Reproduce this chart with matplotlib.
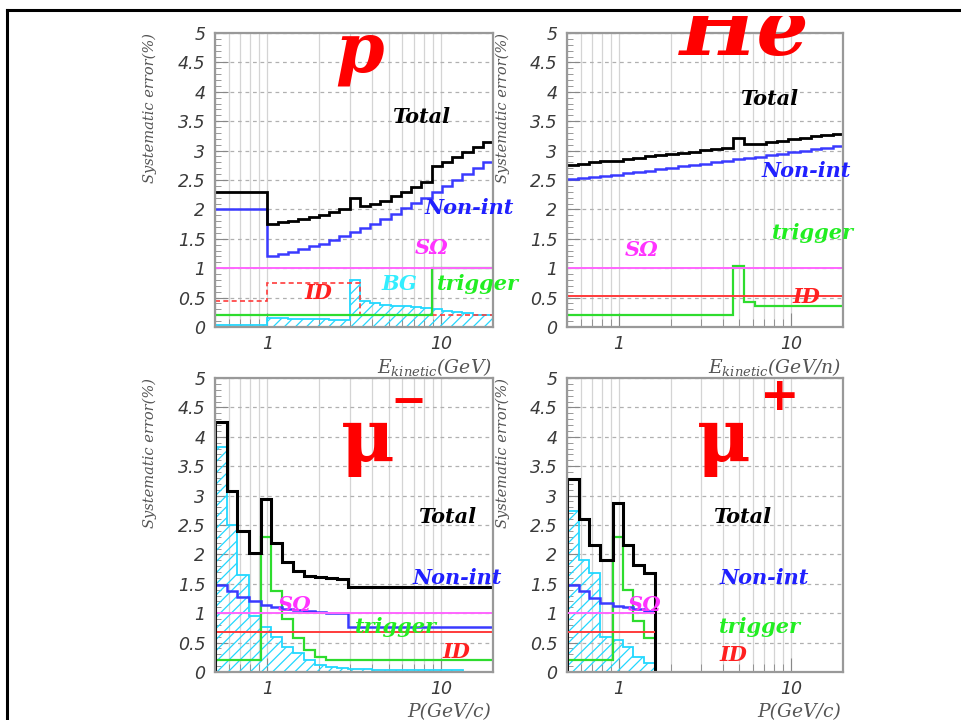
import matplotlib
matplotlib.use("Agg")
import matplotlib.pyplot as plt
from matplotlib.ticker import FixedLocator, MultipleLocator, NullFormatter, FuncFormatter
from matplotlib.lines import Line2D
from matplotlib.patches import Rectangle

W, H = 961, 720

# ---- proton panel (E_kinetic, GeV) ----
p_edges = [0.5, 1.0, 1.15, 1.31, 1.51, 1.73, 1.98, 2.27, 2.60, 2.98, 3.42, 3.92, 4.49,
           5.14, 5.89, 6.75, 7.74, 8.87, 10.2, 11.6, 13.3, 15.3, 17.5, 20.0]
p_total = [2.29, 1.76, 1.78, 1.81, 1.83, 1.87, 1.91, 1.95, 2.00, 2.20, 2.06, 2.09, 2.15,
           2.22, 2.30, 2.38, 2.46, 2.74, 2.81, 2.89, 2.98, 3.06, 3.15]
p_nonint = [2.00, 1.21, 1.24, 1.28, 1.32, 1.37, 1.42, 1.48, 1.55, 1.61, 1.68, 1.76, 1.84,
            1.93, 2.02, 2.11, 2.20, 2.30, 2.40, 2.50, 2.60, 2.70, 2.80]
p_trigger = [0.2, 0.2, 0.2, 0.2, 0.2, 0.2, 0.2, 0.2, 0.2, 0.2, 0.2, 0.2, 0.2,
             0.2, 0.2, 0.2, 0.2, 1.0, 1.0, 1.0, 1.0, 1.0, 1.0]
p_id = [0.45, 0.75, 0.75, 0.75, 0.75, 0.75, 0.75, 0.75, 0.75, 0.75, 0.2, 0.2, 0.2,
        0.2, 0.2, 0.2, 0.2, 0.2, 0.2, 0.2, 0.2, 0.2, 0.2]
p_bg = [0.03, 0.15, 0.15, 0.14, 0.14, 0.13, 0.13, 0.12, 0.12, 0.80, 0.45, 0.40, 0.37,
        0.36, 0.35, 0.34, 0.33, 0.30, 0.28, 0.25, 0.23, 0.21, 0.20]
p_somega = 1.0

# ---- helium panel (E_kinetic, GeV/n) ----
he_edges = [0.5, 0.58, 0.67, 0.78, 0.9, 1.05, 1.21, 1.41, 1.63, 1.89, 2.19, 2.54, 2.95,
            3.42, 3.96, 4.6, 5.33, 6.18, 7.17, 8.32, 9.65, 11.2, 13.0, 15.0, 17.4, 20.0]
he_total = [2.76, 2.78, 2.80, 2.82, 2.83, 2.86, 2.88, 2.90, 2.92, 2.94, 2.96, 2.98, 3.01,
            3.03, 3.05, 3.22, 3.11, 3.12, 3.15, 3.17, 3.20, 3.22, 3.24, 3.26, 3.29]
he_nonint = [2.51, 2.53, 2.55, 2.57, 2.59, 2.62, 2.64, 2.66, 2.68, 2.71, 2.73, 2.75, 2.78,
             2.80, 2.82, 2.85, 2.87, 2.89, 2.92, 2.94, 2.97, 2.99, 3.02, 3.04, 3.07]
he_trigger = [0.2, 0.2, 0.2, 0.2, 0.2, 0.2, 0.2, 0.2, 0.2, 0.2, 0.2, 0.2, 0.2,
              0.2, 0.2, 1.03, 0.43, 0.35, 0.35, 0.35, 0.35, 0.35, 0.35, 0.35, 0.35]
he_id = 0.53
he_somega = 1.0

# ---- mu- panel (P, GeV/c) ----
mum_edges = [0.5, 0.584, 0.67, 0.78, 0.92, 1.05, 1.21, 1.40, 1.62, 1.88, 2.18, 2.53,
             2.93, 4.0, 6.0, 9.0, 13.4, 20.0]
mum_total = [4.26, 3.08, 2.39, 2.02, 2.94, 2.19, 1.87, 1.72, 1.64, 1.61, 1.60, 1.59,
             1.45, 1.45, 1.45, 1.45, 1.45]
mum_nonint = [1.48, 1.38, 1.28, 1.20, 1.14, 1.10, 1.07, 1.05, 1.03, 1.02, 1.01, 1.00,
              0.77, 0.77, 0.77, 0.77, 0.77]
mum_trigger = [0.2, 0.2, 0.2, 0.2, 2.30, 1.38, 0.90, 0.58, 0.37, 0.26, 0.2, 0.2,
               0.2, 0.2, 0.2, 0.2, 0.2]
mum_bg = [3.82, 2.50, 1.65, 0.95, 0.77, 0.60, 0.43, 0.32, 0.20, 0.12, 0.08, 0.06,
          0.05, 0.04, 0.03, 0.03, 0.0]
mum_id = 0.68
mum_somega = 1.0

# ---- mu+ panel (P, GeV/c) ----
mup_edges = [0.5, 0.584, 0.67, 0.78, 0.92, 1.05, 1.21, 1.40, 1.62]
mup_total = [3.29, 2.61, 2.16, 1.90, 2.88, 2.16, 1.82, 1.69]
mup_nonint = [1.48, 1.37, 1.26, 1.18, 1.13, 1.10, 1.07, 1.04]
mup_trigger = [0.2, 0.2, 0.2, 0.2, 2.30, 1.39, 0.86, 0.58]
mup_bg = [2.73, 1.90, 1.68, 0.60, 0.55, 0.43, 0.26, 0.15]
mup_id = 0.68
mup_somega = 1.0

C_TOTAL = "#000000"
C_NONINT = "#3a3aff"
C_SOMEGA = "#ff66ff"
C_ID = "#ff3b3b"
C_TRIG = "#2edc2e"
C_BG = "#22d8ff"

plt.rcParams["mathtext.fontset"] = "dejavuserif"
plt.rcParams["hatch.linewidth"] = 0.9

fig = plt.figure(figsize=(W / 100, H / 100), dpi=100)

LBL = dict(family="DejaVu Serif", weight="bold", style="italic", fontsize=15)


def make_axes(left_px, top_px, width_px, xlabel):
    rect = [left_px / W, 1 - (top_px + 294) / H, width_px / W, 294 / H]
    ax = fig.add_axes(rect)
    ax.set_xscale("log")
    ax.set_xlim(0.5, 20)
    ax.set_ylim(0, 5)
    ax.xaxis.set_major_locator(FixedLocator([1, 10]))
    ax.xaxis.set_major_formatter(FuncFormatter(lambda v, pos: "%g" % v))
    ax.xaxis.set_minor_locator(FixedLocator([0.5, 0.6, 0.7, 0.8, 0.9, 2, 3, 4, 5, 6, 7, 8, 9, 20]))
    ax.xaxis.set_minor_formatter(NullFormatter())
    ax.yaxis.set_major_locator(MultipleLocator(0.5))
    ax.yaxis.set_minor_locator(MultipleLocator(0.1))
    ax.yaxis.set_major_formatter(FuncFormatter(lambda v, pos: "%g" % round(v, 1)))
    ax.tick_params(which="both", direction="in", color="#888888", top=False, right=False)
    ax.tick_params(axis="y", which="major", length=9, pad=7)
    ax.tick_params(axis="y", which="minor", length=4)
    ax.tick_params(axis="x", which="major", length=10, pad=6)
    ax.tick_params(axis="x", which="minor", length=6)
    ax.tick_params(labelsize=12.5, labelcolor="#3a3a3a")
    for lab in ax.get_xticklabels() + ax.get_yticklabels():
        lab.set_fontfamily("DejaVu Sans")
        lab.set_fontstyle("oblique")
    for sp in ax.spines.values():
        sp.set_color("#999999")
        sp.set_linewidth(1.6)
    ax.set_axisbelow(True)
    ax.grid(which="both", axis="x", color="#d4d4d4", lw=0.9, ls="-")
    ax.grid(which="major", axis="y", color="#b0b0b0", lw=0.9, ls=(0, (3, 3)))
    ax.text(-0.234, 1.0, "Systematic error(%)", transform=ax.transAxes, rotation=90,
            ha="center", va="top", family="DejaVu Serif", style="italic", fontsize=10.5,
            color="#555555")
    ax.text(0.995, -0.135, xlabel, transform=ax.transAxes, ha="right", va="center",
            family="DejaVu Serif", style="italic", fontsize=13.5, color="#555555")
    return ax


# proton
ax = make_axes(215, 33, 278, r"$E_{kinetic}$(GeV)")
ax.stairs(p_bg, p_edges, baseline=0, fill=True, facecolor="none", edgecolor=C_BG,
          hatch="///", lw=1.3)
ax.stairs(p_id, p_edges, baseline=None, color=C_ID, lw=1.2, ls=(0, (3, 2)))
ax.hlines(p_somega, p_edges[0], p_edges[-1], color=C_SOMEGA, lw=1.4)
ax.stairs(p_trigger, p_edges, baseline=None, color=C_TRIG, lw=1.6)
ax.stairs(p_nonint, p_edges, baseline=None, color=C_NONINT, lw=1.8)
ax.stairs(p_total, p_edges, baseline=None, color=C_TOTAL, lw=2.0)
ax.text(7.7, 3.57, "Total", color="black", ha="center", va="center", **LBL)
ax.text(8.1, 2.02, "Non-int", color="#2020ff", ha="left", va="center", **LBL)
ax.text(8.9, 1.34, "SΩ", color="#ff33ff", ha="center", va="center", **LBL)
ax.text(5.8, 0.73, "BG", color="#33eeff", ha="center", va="center", **LBL)
ax.text(9.5, 0.73, "trigger", color="#22ee22", ha="left", va="center", **LBL)
ax.text(1.97, 0.58, "ID", color="#ff2020", ha="center", va="center", **LBL)

# helium
ax = make_axes(567, 33, 276, r"$E_{kinetic}$(GeV/n)")
ax.hlines(he_id, he_edges[0], he_edges[-1], color=C_ID, lw=1.4)
ax.hlines(he_somega, he_edges[0], he_edges[-1], color=C_SOMEGA, lw=1.4)
ax.stairs(he_trigger, he_edges, baseline=None, color=C_TRIG, lw=1.6)
ax.stairs(he_nonint, he_edges, baseline=None, color=C_NONINT, lw=1.8)
ax.stairs(he_total, he_edges, baseline=None, color=C_TOTAL, lw=2.0)
ax.text(7.4, 3.88, "Total", color="black", ha="center", va="center", **LBL)
ax.text(6.7, 2.65, "Non-int", color="#2020ff", ha="left", va="center", **LBL)
ax.text(7.7, 1.6, "trigger", color="#22ee22", ha="left", va="center", **LBL)
ax.text(1.36, 1.31, "SΩ", color="#ff33ff", ha="center", va="center", **LBL)
ax.text(12.3, 0.51, "ID", color="#ff2020", ha="center", va="center", **LBL)

# mu-
ax = make_axes(215, 378, 278, "P(GeV/c)")
ax.stairs(mum_bg, mum_edges, baseline=0, fill=True, facecolor="none", edgecolor=C_BG,
          hatch="///", lw=1.3)
ax.hlines(mum_id, mum_edges[0], mum_edges[-1], color=C_ID, lw=1.4)
ax.hlines(mum_somega, mum_edges[0], mum_edges[-1], color=C_SOMEGA, lw=1.4)
ax.stairs(mum_trigger, mum_edges, baseline=None, color=C_TRIG, lw=1.6)
ax.stairs(mum_nonint, mum_edges, baseline=None, color=C_NONINT, lw=1.8)
ax.stairs(mum_total, mum_edges, baseline=None, color=C_TOTAL, lw=2.2)
ax.vlines(mum_edges[0], 0, mum_total[0], color=C_TOTAL, lw=2.2)
ax.text(10.8, 2.64, "Total", color="black", ha="center", va="center", **LBL)
ax.text(6.9, 1.6, "Non-int", color="#2020ff", ha="left", va="center", **LBL)
ax.text(1.44, 1.14, "SΩ", color="#ff33ff", ha="center", va="center", **LBL)
ax.text(3.2, 0.77, "trigger", color="#22ee22", ha="left", va="center", **LBL)
ax.text(12.3, 0.34, "ID", color="#ff2020", ha="center", va="center", **LBL)

# mu+
ax = make_axes(567, 378, 276, "P(GeV/c)")
ax.stairs(mup_bg, mup_edges, baseline=0, fill=True, facecolor="none", edgecolor=C_BG,
          hatch="///", lw=1.3)
ax.hlines(mup_id, mup_edges[0], mup_edges[-1], color=C_ID, lw=1.4)
ax.hlines(mup_somega, mup_edges[0], mup_edges[-1], color=C_SOMEGA, lw=1.4)
ax.stairs(mup_trigger, mup_edges, baseline=None, color=C_TRIG, lw=1.6)
ax.stairs(mup_nonint, mup_edges, baseline=None, color=C_NONINT, lw=1.8)
ax.stairs(mup_total, mup_edges, baseline=0, color=C_TOTAL, lw=2.2)
ax.text(5.2, 2.64, "Total", color="black", ha="center", va="center", **LBL)
ax.text(3.83, 1.6, "Non-int", color="#2020ff", ha="left", va="center", **LBL)
ax.text(1.41, 1.14, "SΩ", color="#ff33ff", ha="center", va="center", **LBL)
ax.text(3.83, 0.77, "trigger", color="#22ee22", ha="left", va="center", **LBL)
ax.text(3.83, 0.29, "ID", color="#ff2020", ha="left", va="center", **LBL)

# big particle labels
BIG = dict(family="DejaVu Serif", weight="bold", style="italic", color="#ff0000")
fig.text(360 / W, 1 - 52 / H, "p", ha="center", va="center", fontsize=50, **BIG)
he = fig.text(680 / W, 1 - 55 / H, "He", ha="left", va="baseline", fontsize=59, **BIG)
he.set_clip_path(Rectangle((0, 0), 1, 1 - 16 / H, transform=fig.transFigure))
fig.text(368 / W, 1 - 440 / H, "μ", ha="center", va="center", fontsize=53,
         family="DejaVu Serif", weight="bold", color="#ff0000")
fig.text(408 / W, 1 - 402 / H, "−", ha="center", va="center", fontsize=31,
         family="DejaVu Sans", weight="bold", color="#ff0000")
fig.text(724 / W, 1 - 440 / H, "μ", ha="center", va="center", fontsize=53,
         family="DejaVu Serif", weight="bold", color="#ff0000")
fig.text(780 / W, 1 - 398 / H, "+", ha="center", va="center", fontsize=34,
         family="DejaVu Sans", weight="bold", color="#ff0000")

# slide frame
fig.add_artist(Line2D([7 / W, 1], [1 - 10 / H, 1 - 10 / H], transform=fig.transFigure,
                      color="black", lw=2.2))
fig.add_artist(Line2D([7 / W, 7 / W], [0, 1 - 10 / H], transform=fig.transFigure,
                      color="black", lw=2.2))

fig.savefig("out.png", dpi=100)
